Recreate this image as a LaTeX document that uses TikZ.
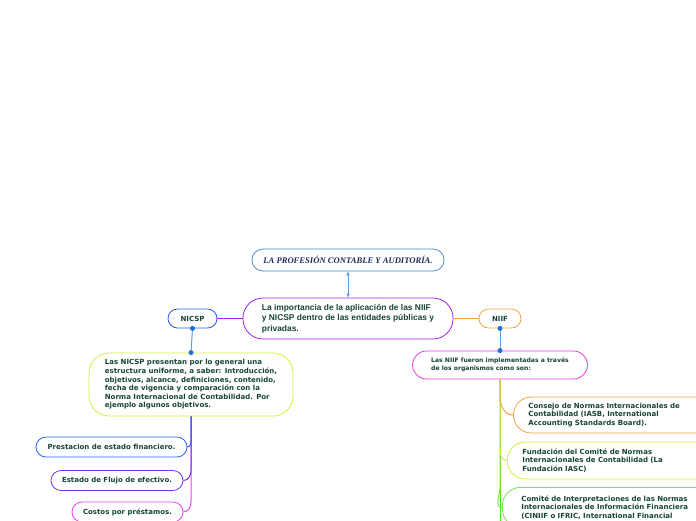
\documentclass[tikz,border=0pt]{standalone}
\usepackage{fontspec}
\setmainfont{DejaVu Sans}
\newfontfamily\arialfont{Liberation Sans}
\newfontfamily\timesfont{Liberation Serif}
\usepackage{xcolor}
\usetikzlibrary{arrows.meta}

\definecolor{txtgreen}{HTML}{17443A}
\definecolor{titlenavy}{HTML}{1F2A5A}
\definecolor{titleblue}{HTML}{4A8FD0}
\definecolor{mainpurple}{HTML}{A424F0}
\definecolor{nicspblue}{HTML}{2E5CE6}
\definecolor{niiforange}{HTML}{F2A444}
\definecolor{limegreen}{HTML}{D4F038}
\definecolor{pinkmag}{HTML}{E83CE8}
\definecolor{prestblue}{HTML}{2864F0}
\definecolor{estpurple}{HTML}{7434F0}
\definecolor{costmag}{HTML}{E444F4}
\definecolor{comgreen}{HTML}{74E448}
\definecolor{trunkgreen}{HTML}{5CE020}
\definecolor{dotblue}{HTML}{1E6FD8}
\definecolor{linkblue}{HTML}{5AA0E8}

\begin{document}
\begin{tikzpicture}[x=1pt, y=-1pt,
  bubble/.style={draw, line width=0.8pt, fill=white, text=txtgreen,
    font=\fontsize{7}{8.6}\selectfont\bfseries, align=left, inner sep=0pt},
  dot/.style={circle, fill=dotblue, inner sep=0pt, minimum size=5pt},
  link/.style={line width=1pt}]
  \useasboundingbox (0,0) rectangle (696,520);
  \clip (0,0) rectangle (696,520);

  % ── top and central nodes ──
  \node[bubble, draw=titleblue, rounded corners=11pt, minimum width=192pt,
    minimum height=22pt, text=titlenavy, align=center,
    font=\timesfont\fontsize{8.6}{10}\selectfont\bfseries\itshape]
    (title) at (348,260) {LA PROFESIÓN CONTABLE Y AUDITORÍA.};

  \node[bubble, draw=mainpurple, rounded corners=20pt, minimum width=210pt,
    minimum height=41pt,
    font=\arialfont\fontsize{8.4}{10.5}\selectfont\bfseries]
    (central) at (348,318.5)
    {La importancia de la aplicación de las NIIF\\y NICSP dentro de las entidades públicas y\\privadas.};

  \draw[link, linkblue, {Latex[length=4pt,width=4pt]}-{Latex[length=4pt,width=4pt]}]
    (title) -- (central);

  % ── NICSP / NIIF ──
  \node[bubble, draw=nicspblue, rounded corners=9.5pt, minimum width=49pt,
    minimum height=19pt, align=center] (nicsp) at (192.5,318.5) {NICSP};
  \node[bubble, draw=niiforange, rounded corners=9.5pt, minimum width=42pt,
    minimum height=19pt, align=center] (niif) at (500,318.5) {NIIF};

  \draw[link, mainpurple] (central.west) -- (nicsp.east);
  \draw[link, niiforange] (central.east) -- (niif.west);

  \node[bubble, draw=limegreen, rounded corners=20pt, minimum width=204pt,
    minimum height=63pt] (nicspdesc) at (191,384.5)
    {Las NICSP presentan por lo general una\\estructura uniforme, a saber: Introducción,\\objetivos, alcance, definiciones, contenido,\\fecha de vigencia y comparación con la\\Norma Internacional de Contabilidad. Por\\ejemplo algunos objetivos.};

  \node[bubble, draw=pinkmag, rounded corners=14pt, minimum width=175pt,
    minimum height=28pt, font=\fontsize{6.1}{8.4}\selectfont\bfseries]
    (niifdesc) at (500,365)
    {Las NIIF fueron implementadas a través\\de los organismos como son:};

  \draw[link, linkblue] (nicsp.south) -- (nicspdesc.north);
  \node[dot] (nicspdotA) at (nicsp.south) {};
  \node[dot] (nicspdotB) at (nicspdesc.north) {};
  \draw[link, linkblue] (niif.south) -- (niifdesc.north);
  \node[dot] (niifdotA) at (niif.south) {};
  \node[dot] (niifdotB) at (niifdesc.north) {};

  % ── NICSP branches ──
  \node[bubble, draw=prestblue, rounded corners=10pt, minimum width=151pt,
    minimum height=20pt, align=center] (prest) at (111.5,447) {Prestacion de estado financiero.};
  \node[bubble, draw=estpurple, rounded corners=10pt, minimum width=132pt,
    minimum height=20pt, align=center] (estado) at (117,480.5) {Estado de Flujo de efectivo.};
  \node[bubble, draw=costmag, rounded corners=10pt, minimum width=111pt,
    minimum height=20pt, align=center] (costos) at (127.5,512) {Costos por préstamos.};

  \draw[link, costmag] (nicspdesc.south) -- (nicspdesc.south |- costos.north)
    to[out=-90, in=0] (costos.east);
  \draw[link, estpurple] (nicspdesc.south) -- (nicspdesc.south |- estado.north)
    to[out=-90, in=0] (estado.east);
  \draw[link, prestblue] (nicspdesc.south) -- (nicspdesc.south |- prest.north)
    to[out=-90, in=0] (prest.east);

  % ── NIIF branches ──
  \node[bubble, draw=niiforange, rounded corners=18pt, anchor=west,
    minimum height=36pt, text width=180pt, inner xsep=15pt] (consejo) at (513,415)
    {Consejo de Normas Internacionales de\\Contabilidad (IASB, International\\Accounting Standards Board).};
  \node[bubble, draw=limegreen, rounded corners=18pt, anchor=west,
    minimum height=37pt, text width=180pt, inner xsep=15pt] (fundacion) at (507,460.5)
    {Fundación del Comité de Normas\\Internacionales de Contabilidad (La\\Fundación IASC)};
  \node[bubble, draw=comgreen, rounded corners=18pt, anchor=north west,
    minimum height=40pt, text width=185pt, inner xsep=19pt] (comite) at (502,487)
    {Comité de Interpretaciones de las Normas\\Internacionales de Información Financiera\\(CINIIF o IFRIC, International Financial};

  \draw[link, trunkgreen] (niifdesc.south) -- (niifdesc.south |- comite.south);
  \draw[link, comgreen] (niifdesc.south) -- (niifdesc.south |- comite.north)
    to[out=-90, in=180] (comite.west);
  \draw[link, limegreen] (niifdesc.south) -- (niifdesc.south |- fundacion.north)
    to[out=-90, in=180] (fundacion.west);
  \draw[link, niiforange] (niifdesc.south) -- (niifdesc.south |- consejo.north)
    to[out=-90, in=180] (consejo.west);
\end{tikzpicture}
\end{document}
